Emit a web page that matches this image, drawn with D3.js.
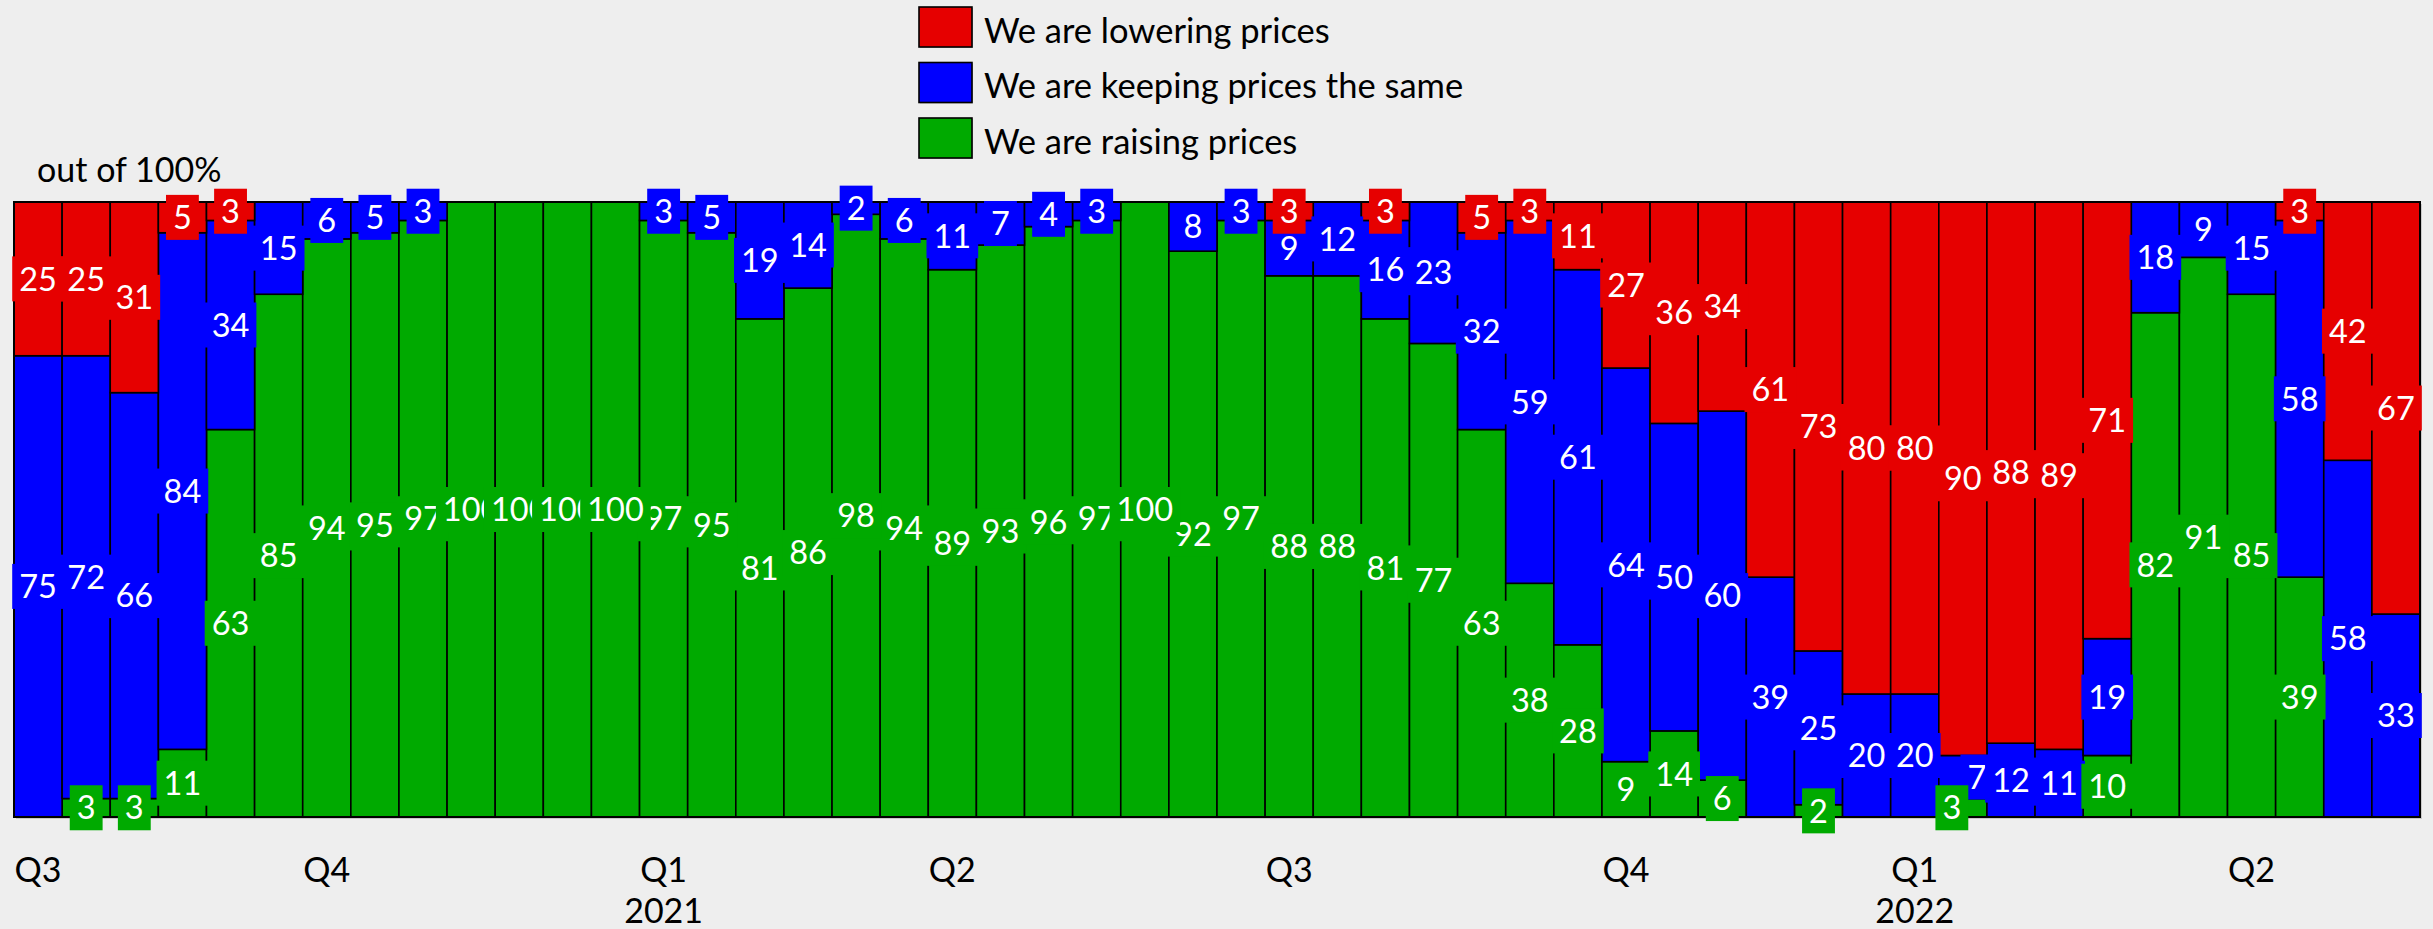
<!DOCTYPE html>
<html>
<head>
<meta charset="utf-8">
<script src="https://cdn.jsdelivr.net/npm/d3@7"></script>
<style>
  html, body { margin: 0; padding: 0; background: #eeeeee; }
  svg { display: block; }
  text { font-family: Lato, "Open Sans", sans-serif; }
</style>
</head>
<body>
<svg id="chart" width="2433" height="929"></svg>
<script>
// ---- data (percent of respondents per survey wave) ----
const raising  = [0,3,3,11,63,85,94,95,97,100,100,100,100,97,95,81,86,98,94,89,93,96,97,100,92,97,88,88,81,77,63,38,28,9,14,6,0,2,0,0,3,0,0,10,82,91,85,39,0,0];
const keeping  = [75,72,66,84,34,15,6,5,3,0,0,0,0,3,5,19,14,2,6,11,7,4,3,0,8,3,9,12,16,23,32,59,61,64,50,60,39,25,20,20,7,12,11,19,18,9,15,58,58,33];
const lowering = [25,25,31,5,3,0,0,0,0,0,0,0,0,0,0,0,0,0,0,0,0,0,0,0,0,0,3,0,3,0,5,3,11,27,36,34,61,73,80,80,90,88,89,71,0,0,0,3,42,67];

const seriesKeys   = ["raising", "keeping", "lowering"];
const seriesNames  = { lowering: "We are lowering prices", keeping: "We are keeping prices the same", raising: "We are raising prices" };
const legendOrder  = ["lowering", "keeping", "raising"];
const colors       = { lowering: "#e60000", keeping: "#0000ff", raising: "#00aa00" };

const quarterLabels = ["Q3","Q4","Q1","Q2","Q3","Q4","Q1","Q2"];
const quarterWaves  = [0, 6, 13, 19, 26, 33, 39, 46];
const yearLabels    = ["2021", "2022"];
const yearWaves     = [13, 39];
const yAxisTitle    = "out of 100%";

// ---- layout ----
const svg = d3.select("#chart");
const W = 2433, H = 929;
const plot = { left: 14, right: 2420, top: 202, bottom: 817 };

const n = raising.length;
const waves = d3.range(n);
const rows = waves.map(i => ({ i, raising: raising[i], keeping: keeping[i], lowering: lowering[i] }));

const x = d3.scaleBand().domain(waves).range([plot.left, plot.right]).padding(0);
const y = d3.scaleLinear().domain([0, 100]).range([plot.bottom, plot.top]);

const stack = d3.stack().keys(seriesKeys);
const stacked = stack(rows);

svg.append("rect").attr("width", W).attr("height", H).attr("fill", "#eeeeee");

// frame shadow
svg.append("rect")
  .attr("x", plot.left + 2).attr("y", plot.top + 2)
  .attr("width", plot.right - plot.left).attr("height", plot.bottom - plot.top)
  .attr("fill", "#c9c9c9");

// bars
const gBars = svg.append("g");
stacked.forEach(s => {
  gBars.append("g").attr("fill", colors[s.key])
    .selectAll("rect").data(s.filter(d => d[1] - d[0] > 0)).join("rect")
    .attr("x", d => x(d.data.i))
    .attr("width", x.bandwidth())
    .attr("y", d => y(d[1]))
    .attr("height", d => y(d[0]) - y(d[1]))
    .attr("stroke", "#000")
    .attr("stroke-width", 1.6);
});

// frame
svg.append("rect")
  .attr("x", plot.left).attr("y", plot.top)
  .attr("width", plot.right - plot.left).attr("height", plot.bottom - plot.top)
  .attr("fill", "none").attr("stroke", "#000").attr("stroke-width", 2);

// data labels with coloured background boxes
const labelFont = 32.5;
const nudge = { "raising-40": -11, "keeping-40": 14 };
const seriesRank = { keeping: 0, lowering: 1, raising: 2 };
let labels = [];
stacked.forEach(s => {
  s.forEach(d => {
    const v = d[1] - d[0];
    if (v <= 0) return;
    labels.push({
      key: s.key, v, i: d.data.i,
      cx: x(d.data.i) + x.bandwidth() / 2 + (nudge[s.key + "-" + d.data.i] || 0),
      cy: (y(d[0]) + y(d[1])) / 2
    });
  });
});
labels.sort((a, b) => (seriesRank[a.key] - seriesRank[b.key]) || (a.v - b.v) || (a.i - b.i));

const gLab = svg.append("g");
labels.forEach(l => {
  const g = gLab.append("g");
  const rect = g.append("rect").attr("fill", colors[l.key]);
  const t = g.append("text")
    .attr("x", l.cx).attr("y", l.cy)
    .attr("dy", "0.36em")
    .attr("text-anchor", "middle")
    .attr("fill", "#fff")
    .attr("font-size", labelFont)
    .text(l.v);
  const tw = t.node().getComputedTextLength();
  const bw = tw + 14, bh = 45;
  rect.attr("x", l.cx - bw / 2).attr("y", l.cy - bh / 2).attr("width", bw).attr("height", bh);
});

// y title
svg.append("text")
  .attr("x", 37).attr("y", 182)
  .attr("font-size", 34).attr("fill", "#000")
  .text(yAxisTitle);

// x axis labels (quarters and years)
const xAxisQ = d3.axisBottom(x)
  .tickValues(quarterWaves)
  .tickFormat(d => quarterLabels[quarterWaves.indexOf(d)])
  .tickSize(0).tickPadding(0);
const gq = svg.append("g").attr("transform", `translate(0,${plot.bottom})`).call(xAxisQ);
gq.select(".domain").remove();
gq.selectAll("text").attr("font-size", 34).attr("fill", "#000").attr("dy", null).attr("y", 65)
  .style("font-family", "Lato, 'Open Sans', sans-serif");

const xAxisY = d3.axisBottom(x)
  .tickValues(yearWaves)
  .tickFormat(d => yearLabels[yearWaves.indexOf(d)])
  .tickSize(0).tickPadding(0);
const gy = svg.append("g").attr("transform", `translate(0,${plot.bottom})`).call(xAxisY);
gy.select(".domain").remove();
gy.selectAll("text").attr("font-size", 34).attr("fill", "#000").attr("dy", null).attr("y", 106)
  .style("font-family", "Lato, 'Open Sans', sans-serif");

// legend
const legend = svg.append("g").attr("transform", "translate(919,7)");
legendOrder.forEach((k, j) => {
  const g = legend.append("g").attr("transform", `translate(0,${j * 55.5})`);
  g.append("rect").attr("x", 1).attr("y", 1).attr("width", 53).attr("height", 40).attr("fill", "#bbb");
  g.append("rect").attr("width", 53).attr("height", 40).attr("fill", colors[k])
    .attr("stroke", "#000").attr("stroke-width", 1.6);
  g.append("text").attr("x", 65).attr("y", 35.5).attr("font-size", 34.5).attr("fill", "#000")
    .text(seriesNames[k]);
});
</script>
</body>
</html>
